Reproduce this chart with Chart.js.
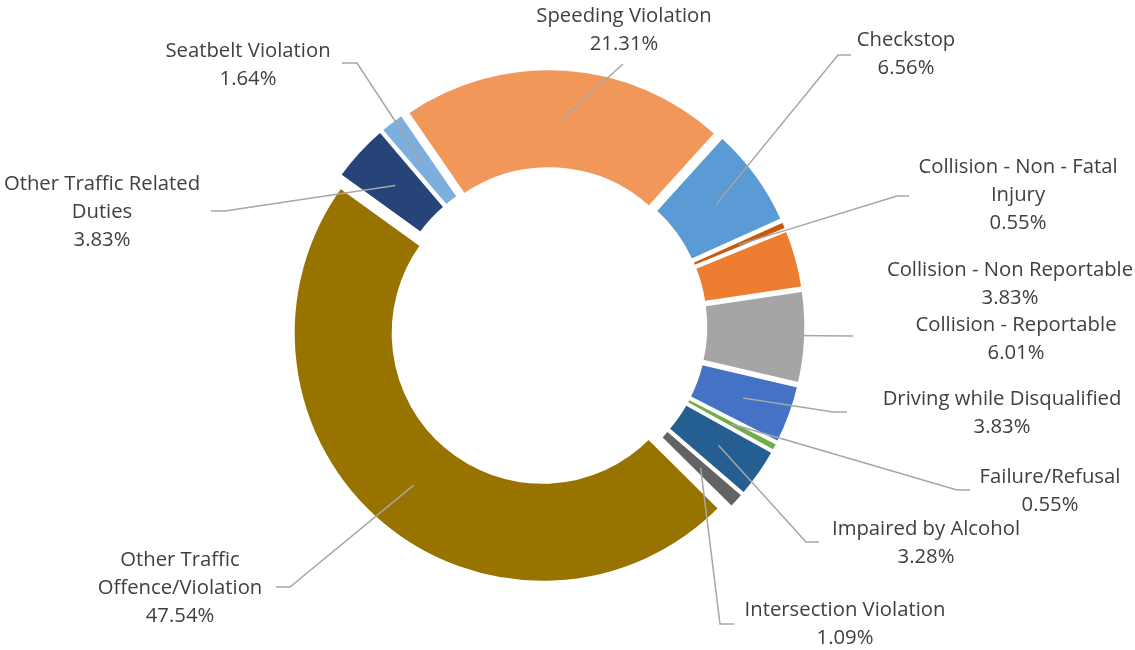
<!DOCTYPE html>
<html>
  <head>
    <title>Traffic Enforcement Breakdown</title>
    <style>
      body {
        background-color: white;
        margin: 0;
        padding: 0;
      }
      .chart-box {
        width: 1135px;
        height: 650px;
      }
    </style>
    <script src="https://cdn.jsdelivr.net/npm/chart.js"></script>
  </head>
  <body>
    <div class="chart-box">
      <canvas id="donutChart"></canvas>
    </div>
    <script>
      // categories and their share of all files (%)
      const categories = [
        "Speeding Violation",
        "Checkstop",
        "Collision - Non - Fatal Injury",
        "Collision - Non Reportable",
        "Collision - Reportable",
        "Driving while Disqualified",
        "Failure/Refusal",
        "Impaired by Alcohol",
        "Intersection Violation",
        "Other Traffic Offence/Violation",
        "Other Traffic Related Duties",
        "Seatbelt Violation"
      ];
      const shares = [21.31, 6.56, 0.55, 3.83, 6.01, 3.83, 0.55, 3.28, 1.09, 47.54, 3.83, 1.64];
      const sliceColors = [
        "#F1975A", "#5B9BD5", "#C55A11", "#ED7D31", "#A5A5A5", "#4472C4",
        "#70AD47", "#255E91", "#636363", "#997300", "#264478", "#7CAFDD"
      ];

      // where each data label sits: text centre x, first line y, wrap width,
      // and the bend/end points of its leader line (empty = no line)
      const labelLayout = [
        { x: 624,  y: 16,  wrap: 260, line: [[623, 64]] },
        { x: 906,  y: 40,  wrap: 200, line: [[838, 55], [851, 55]] },
        { x: 1018, y: 167, wrap: 230, line: [[897, 196], [909, 196]] },
        { x: 1010, y: 270, wrap: 300, line: [] },
        { x: 1016, y: 325, wrap: 300, line: [[853, 336]] },
        { x: 1002, y: 399, wrap: 300, line: [[833, 412], [847, 412]] },
        { x: 1050, y: 477, wrap: 200, line: [[957, 490], [970, 490]] },
        { x: 926,  y: 529, wrap: 250, line: [[806, 542], [819, 542]] },
        { x: 845,  y: 610, wrap: 280, line: [[720, 624], [734, 624]] },
        { x: 180,  y: 560, wrap: 190, line: [[290, 587], [276, 587]] },
        { x: 102,  y: 184, wrap: 220, line: [[225, 211], [211, 211]] },
        { x: 248,  y: 51,  wrap: 240, line: [[357, 63], [342, 63]] }
      ];

      const EXPLODE = 8.5;
      const LINE_HEIGHT = 28;
      const FONT = "20.3px 'Open Sans', Lato, sans-serif";

      function wrapText(ctx, text, width) {
        const words = text.split(" ");
        const lines = [];
        let current = "";
        words.forEach(word => {
          const test = current ? current + " " + word : word;
          if (current && ctx.measureText(test).width > width) {
            lines.push(current);
            current = word;
          } else {
            current = test;
          }
        });
        if (current) lines.push(current);
        return lines;
      }

      // push every slice a little outwards along its middle angle
      const explodePlugin = {
        id: "explode",
        beforeDatasetDraw(chart, args) {
          const ctx = chart.ctx;
          args.meta.data.forEach(arc => {
            const mid = (arc.startAngle + arc.endAngle) / 2;
            ctx.save();
            ctx.translate(Math.cos(mid) * EXPLODE, Math.sin(mid) * EXPLODE);
            arc.draw(ctx, chart.chartArea);
            ctx.restore();
          });
          return false;
        }
      };

      const labelPlugin = {
        id: "sliceLabels",
        afterDatasetsDraw(chart) {
          const ctx = chart.ctx;
          const meta = chart.getDatasetMeta(0);
          ctx.save();
          meta.data.forEach((arc, i) => {
            const layout = labelLayout[i];
            const mid = (arc.startAngle + arc.endAngle) / 2;
            const r = (arc.innerRadius + arc.outerRadius) / 2;
            const sx = arc.x + Math.cos(mid) * (r + EXPLODE);
            const sy = arc.y + Math.sin(mid) * (r + EXPLODE);

            if (layout.line.length) {
              ctx.beginPath();
              ctx.moveTo(sx, sy);
              layout.line.forEach(p => ctx.lineTo(p[0], p[1]));
              ctx.strokeStyle = "#A6A6A6";
              ctx.lineWidth = 1.5;
              ctx.stroke();
            }

            ctx.font = FONT;
            ctx.fillStyle = "#404040";
            ctx.textAlign = "center";
            ctx.textBaseline = "middle";
            const lines = wrapText(ctx, chart.data.labels[i], layout.wrap);
            lines.push(shares[i].toFixed(2) + "%");
            lines.forEach((t, k) => ctx.fillText(t, layout.x, layout.y + k * LINE_HEIGHT));
          });
          ctx.restore();
        }
      };

      const donutChart = new Chart(document.getElementById("donutChart"), {
        type: "doughnut",
        data: {
          labels: categories,
          datasets: [
            {
              data: shares,
              backgroundColor: sliceColors,
              borderColor: "#FFFFFF",
              borderWidth: 3
            }
          ]
        },
        options: {
          responsive: true,
          maintainAspectRatio: false,
          animation: false,
          rotation: -34.5,
          radius: 249.3,
          cutout: "59.9%",
          layout: { padding: { left: 0, right: 39, top: 3, bottom: 0 } },
          plugins: {
            legend: { display: false },
            tooltip: { enabled: false }
          }
        },
        plugins: [explodePlugin, labelPlugin]
      });
    </script>
  </body>
</html>
